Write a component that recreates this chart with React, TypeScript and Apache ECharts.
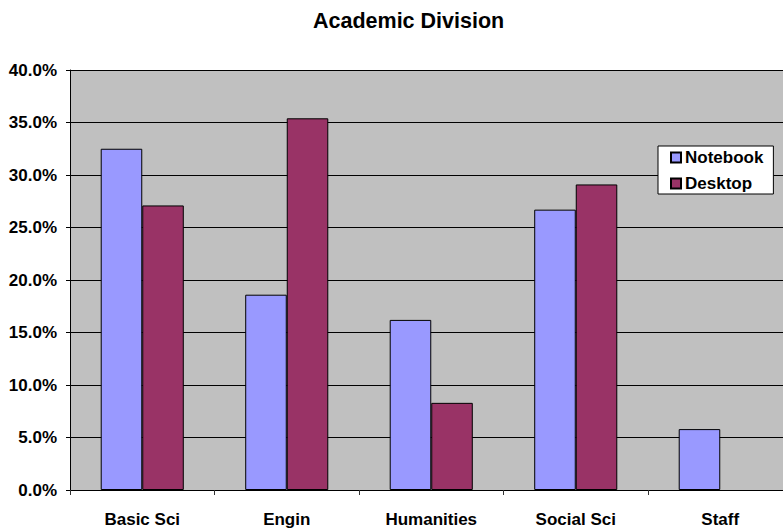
import React, { useEffect, useRef } from "react";
import * as echarts from "echarts";

const categories = ["Basic Sci", "Engin", "Humanities", "Social Sci", "Staff"];
const notebook = [32.5, 18.6, 16.2, 26.7, 5.8];
const desktop = [27.1, 35.4, 8.3, 29.1, 0];
const seriesNames = ["Notebook", "Desktop"];

const FONT = "'Liberation Sans', Arial, sans-serif";

export default function App() {
  const ref = useRef<HTMLDivElement>(null);
  useEffect(() => {
    if (!ref.current) return;
    const chart = echarts.init(ref.current, undefined, { renderer: "svg" });
    chart.setOption({
      animation: false,
      backgroundColor: "#ffffff",
      title: {
        text: "Academic Division",
        left: 313,
        top: 9.5,
        padding: 0,
        textStyle: { fontFamily: FONT, fontSize: 21.5, fontWeight: "bold", color: "#000" },
      },
      legend: {
        orient: "vertical",
        left: 658,
        top: 146,
        backgroundColor: "#ffffff",
        borderColor: "#000",
        borderWidth: 1,
        borderRadius: 0,
        padding: [3, 10, 2, 12],
        itemWidth: 10,
        itemHeight: 10,
        itemGap: 9,
        icon: "rect",
        textStyle: { fontFamily: FONT, fontSize: 17, fontWeight: "bold", color: "#000", padding: [0, 0, 0, -1] },
        data: seriesNames,
      },
      grid: {
        left: 70,
        top: 70,
        bottom: 39,
        right: -9.5,
        outerBoundsMode: "none",
        containLabel: false,
        show: true,
        backgroundColor: "#C0C0C0",
        borderWidth: 0,
      },
      xAxis: {
        type: "category",
        data: categories,
        axisLine: { lineStyle: { color: "#000", width: 1 } },
        axisTick: { show: true, length: 5, lineStyle: { color: "#333" } },
        axisLabel: { fontFamily: FONT, fontSize: 17, fontWeight: "bold", color: "#000", margin: 21 },
      },
      yAxis: {
        type: "value",
        min: 0,
        max: 40,
        interval: 5,
        axisLine: { show: true, lineStyle: { color: "#000", width: 1 } },
        axisTick: { show: true, length: 4, lineStyle: { color: "#000" } },
        axisLabel: {
          fontFamily: FONT,
          fontSize: 17,
          fontWeight: "bold",
          color: "#000",
          margin: 13,
          formatter: (v: number) => v.toFixed(1) + "%",
        },
        splitLine: { show: true, lineStyle: { color: "#000", width: 1 } },
      },
      series: [
        {
          name: seriesNames[0],
          type: "bar",
          data: notebook,
          barGap: "0%",
          barCategoryGap: "42.5%",
          itemStyle: { color: "#9999FF", borderColor: "#000", borderWidth: 1 },
        },
        {
          name: seriesNames[1],
          type: "bar",
          data: desktop.map((v) => (v === 0 ? "-" : v)),
          barGap: "0%",
          barCategoryGap: "42.5%",
          itemStyle: { color: "#993366", borderColor: "#000", borderWidth: 1 },
        },
      ],
    });
    return () => chart.dispose();
  }, []);
  return (
    <div
      ref={ref}
      style={{ position: "absolute", left: 0, top: 0, width: 783, height: 529 }}
    />
  );
}
